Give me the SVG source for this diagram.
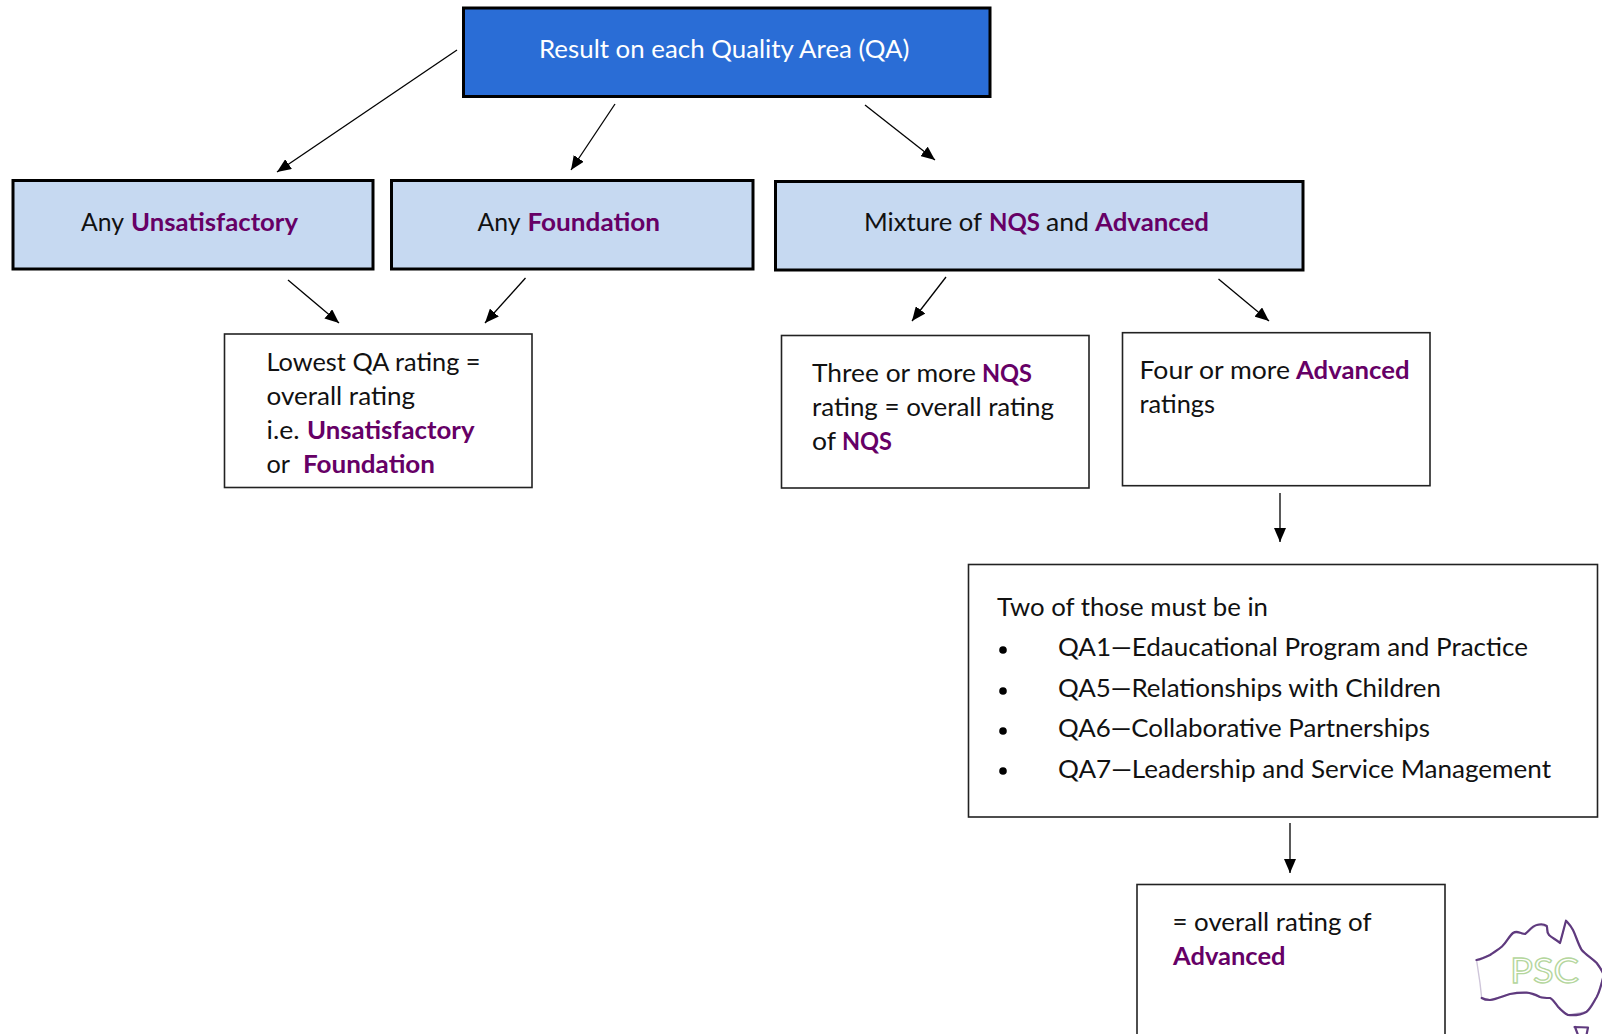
<svg xmlns="http://www.w3.org/2000/svg" width="1602" height="1034" viewBox="0 0 1602 1034">
<style>
text{font-family:Lato,"Open Sans","Liberation Sans",sans-serif;font-size:25px;fill:#111;}
.b{font-weight:700;fill:#660066;}
.w{fill:#fff;}
.hd{stroke:#000;stroke-width:3;}
.dark{fill:#2a6dd6;}
.light{fill:#c6d9f1;}
.plain{fill:#fff;stroke:#222;stroke-width:1.6;}
.c{stroke:#000;stroke-width:1.3;fill:none;marker-end:url(#a);}
.aus{fill:none;stroke:#5f3a7e;stroke-width:2.2;stroke-linejoin:round;stroke-linecap:round;}
.ausbase{fill:#fff;stroke:#cfc6da;stroke-width:1.4;}
.psc{font-size:35px;fill:#fff;stroke:#b4d69c;stroke-width:1.3;}
</style>
<defs>
<marker id="a" markerUnits="userSpaceOnUse" markerWidth="14" markerHeight="12" refX="14" refY="6" orient="auto"><path d="M0 0L14 6L0 12z" fill="#000"/></marker>
</defs>
<g id="connectors">
<line class="c" x1="457" y1="50" x2="277" y2="172"/>
<line class="c" x1="615" y1="104" x2="571" y2="170"/>
<line class="c" x1="865" y1="105" x2="935" y2="160"/>
<line class="c" x1="288" y1="280" x2="339" y2="323"/>
<line class="c" x1="525.5" y1="278" x2="485" y2="323"/>
<line class="c" x1="946" y1="277" x2="912" y2="321"/>
<line class="c" x1="1218.5" y1="279" x2="1269" y2="321"/>
<line class="c" x1="1280" y1="493" x2="1280" y2="542"/>
<line class="c" x1="1290" y1="823" x2="1290" y2="873"/>
</g>
<g id="node-result">
<rect class="hd dark" x="463.5" y="8" width="526.5" height="88.5"/>
<text x="539" y="58" class="w" textLength="370.5" lengthAdjust="spacingAndGlyphs">Result on each Quality Area (QA)</text>
</g>
<g id="node-unsatisfactory">
<rect class="hd light" x="13" y="180.5" width="360" height="88.5"/>
<text y="230.5"><tspan x="81" textLength="43" lengthAdjust="spacingAndGlyphs">Any</tspan><tspan class="b" x="131" textLength="167" lengthAdjust="spacingAndGlyphs">Unsatisfactory</tspan></text>
</g>
<g id="node-foundation">
<rect class="hd light" x="391.5" y="180.5" width="361.5" height="88.5"/>
<text y="230.5"><tspan x="477.5" textLength="43" lengthAdjust="spacingAndGlyphs">Any</tspan><tspan class="b" x="527.5" textLength="132.5" lengthAdjust="spacingAndGlyphs">Foundation</tspan></text>
</g>
<g id="node-mixture">
<rect class="hd light" x="775.5" y="181.5" width="527.5" height="88.5"/>
<text y="231"><tspan x="864" textLength="118" lengthAdjust="spacingAndGlyphs">Mixture of</tspan><tspan class="b" x="989" textLength="51" lengthAdjust="spacingAndGlyphs">NQS</tspan><tspan x="1046" textLength="43" lengthAdjust="spacingAndGlyphs">and</tspan><tspan class="b" x="1095" textLength="114" lengthAdjust="spacingAndGlyphs">Advanced</tspan></text>
</g>
<g id="node-lowest">
<rect class="plain" x="224.5" y="334" width="307.5" height="153.5"/>
<text x="266.5" y="370.5" textLength="214" lengthAdjust="spacingAndGlyphs">Lowest QA rating =</text>
<text x="266.5" y="404.5" textLength="148.5" lengthAdjust="spacingAndGlyphs">overall rating</text>
<text y="438.5"><tspan x="266.5" textLength="33" lengthAdjust="spacingAndGlyphs">i.e.</tspan><tspan class="b" x="307" textLength="167.5" lengthAdjust="spacingAndGlyphs">Unsatisfactory</tspan></text>
<text y="472.5"><tspan x="266.5" textLength="23.5" lengthAdjust="spacingAndGlyphs">or</tspan><tspan class="b" x="303" textLength="132" lengthAdjust="spacingAndGlyphs">Foundation</tspan></text>
</g>
<g id="node-three">
<rect class="plain" x="781.5" y="335.5" width="307.5" height="152.5"/>
<text y="381.7"><tspan x="812" textLength="164" lengthAdjust="spacingAndGlyphs">Three or more</tspan><tspan class="b" x="982" textLength="50" lengthAdjust="spacingAndGlyphs">NQS</tspan></text>
<text x="812" y="416" textLength="242" lengthAdjust="spacingAndGlyphs">rating = overall rating</text>
<text y="449.5"><tspan x="812" textLength="24" lengthAdjust="spacingAndGlyphs">of</tspan><tspan class="b" x="842" textLength="50" lengthAdjust="spacingAndGlyphs">NQS</tspan></text>
</g>
<g id="node-four">
<rect class="plain" x="1122.5" y="332.7" width="307.5" height="153"/>
<text y="379"><tspan x="1139.5" textLength="150.5" lengthAdjust="spacingAndGlyphs">Four or more</tspan><tspan class="b" x="1296" textLength="113.5" lengthAdjust="spacingAndGlyphs">Advanced</tspan></text>
<text x="1139.5" y="413" textLength="75.5" lengthAdjust="spacingAndGlyphs">ratings</text>
</g>
<g id="node-two">
<rect class="plain" x="968.5" y="564.5" width="629" height="252.5"/>
<text x="997" y="615.7" textLength="271" lengthAdjust="spacingAndGlyphs">Two of those must be in</text>
<circle cx="1003" cy="650" r="3.8"/><circle cx="1003" cy="691" r="3.8"/><circle cx="1003" cy="731" r="3.8"/><circle cx="1003" cy="771" r="3.8"/>
<text x="1058" y="655.7" textLength="470" lengthAdjust="spacingAndGlyphs">QA1—Edaucational Program and Practice</text>
<text x="1058" y="696.7" textLength="383" lengthAdjust="spacingAndGlyphs">QA5—Relationships with Children</text>
<text x="1058" y="737.3" textLength="372" lengthAdjust="spacingAndGlyphs">QA6—Collaborative Partnerships</text>
<text x="1058" y="777.7" textLength="493" lengthAdjust="spacingAndGlyphs">QA7—Leadership and Service Management</text>
</g>
<g id="node-overall">
<rect class="plain" x="1137" y="884.5" width="308" height="160"/>
<text x="1172.5" y="930.5" textLength="199" lengthAdjust="spacingAndGlyphs">= overall rating of</text>
<text class="b" x="1173" y="964.5" textLength="112.5" lengthAdjust="spacingAndGlyphs">Advanced</text>
</g>
<g id="logo">
<path class="ausbase" d="M1476.5 960L1490 955L1502 946.5L1513 933L1520 932.7L1525 934L1536.7 925L1546.7 926L1549 935L1560 943L1566 920.7L1573 930L1581.7 950L1596.7 963L1603 973L1603 978L1596.7 997L1586.7 1011.7L1568 1015L1558 1006.7L1550 998L1540 997L1526.7 992.7L1510 994L1490 1000L1481.7 998L1480 983L1477 963Z"/>
<path class="aus" d="M1476.5 960C1482 959 1486 957 1490 955C1494 952 1498 950 1502 946.5C1507 942 1509 936 1513 933C1516 931 1518 932 1520 932.7C1522 934 1524 934 1525 934C1529 931 1532 926 1536.7 925C1540 924 1544 924 1546.7 926C1548 929 1546 932 1549 935C1552 938 1557 940 1560 943C1562 936 1564 928 1566 920.7C1569 924 1571 926 1573 930C1576 936 1578 944 1581.7 950C1586 955 1592 958 1596.7 963C1599 966 1601 969 1603 973"/>
<path class="aus" d="M1603 978C1601 985 1600 991 1596.7 997C1593 1003 1591 1008 1586.7 1011.7C1581 1015 1574 1015.5 1568 1015C1564 1013 1561 1010 1558 1006.7C1555 1003 1553 999 1550 998C1546 998 1543 998 1540 997C1536 995 1532 993 1526.7 992.7C1520 992.5 1515 993 1510 994C1503 996 1497 999 1490 1000C1487 1000 1484 999.5 1481.7 998"/>
<text class="psc" x="1510" y="983" textLength="69" lengthAdjust="spacingAndGlyphs">PSC</text>
<path class="aus" d="M1574.5 1027L1588 1027.5L1586.5 1035M1575 1027L1578 1035"/>
</g>
</svg>
